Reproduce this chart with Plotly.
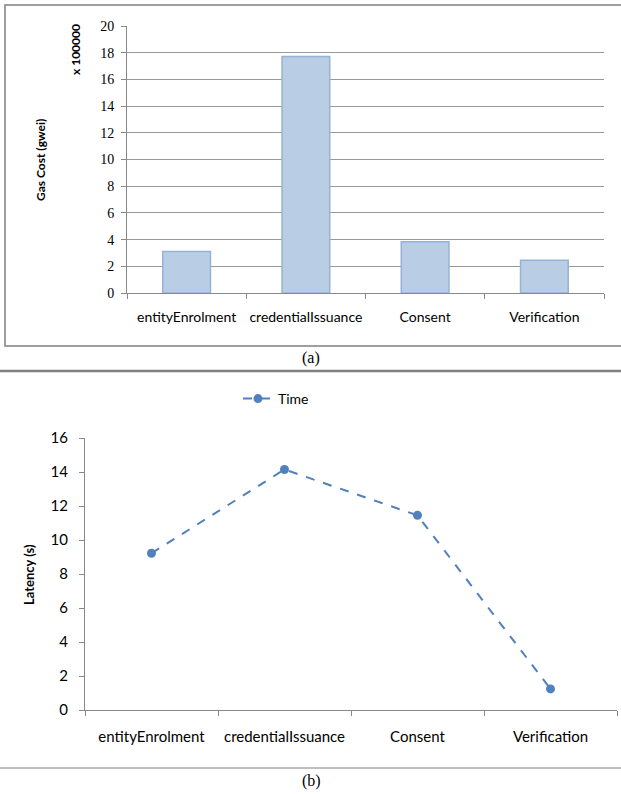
import plotly.graph_objects as go

categories = ["entityEnrolment", "credentialIssuance", "Consent", "Verification"]
gas_cost = [3.1, 17.72, 3.83, 2.45]      # x 100000 gwei
latency = [9.22, 14.15, 11.45, 1.24]     # seconds
gas_ticks = list(range(0, 21, 2))
lat_ticks = list(range(0, 17, 2))

W, H = 621, 794

def px(x):
    return x / W

def py(y):
    return 1 - y / H

sans = "Lato, Carlito, Liberation Sans, Arial, sans-serif"
serif = "Liberation Serif, DejaVu Serif, serif"

fig = go.Figure()

fig.add_trace(go.Bar(
    x=categories, y=gas_cost, xaxis="x", yaxis="y",
    marker=dict(color="#B9CDE5", line=dict(color="#95B3D7", width=1.5)),
    showlegend=False, hoverinfo="skip",
))

fig.add_trace(go.Scatter(
    x=categories, y=latency, xaxis="x2", yaxis="y2",
    mode="lines+markers", name="Time",
    line=dict(color="#4F81BD", width=2, dash="dash"),
    marker=dict(color="#4F81BD", size=9, symbol="circle"),
    showlegend=True, hoverinfo="skip",
))

fig.update_layout(
    width=W, height=H,
    margin=dict(l=0, r=0, t=0, b=0, autoexpand=False),
    paper_bgcolor="white", plot_bgcolor="white",
    bargap=0.6,
    font=dict(family=sans, size=13, color="black"),
    xaxis=dict(
        domain=[px(127), px(604)], anchor="y", automargin=False,
        range=[-0.5, 3.5],
        showline=True, linecolor="#888888", linewidth=1,
        ticks="outside", tickson="boundaries", ticklen=5, tickcolor="#888888",
        showgrid=False, ticklabelstandoff=11, tickangle=0,
        tickfont=dict(family=sans, size=14, color="black"),
    ),
    yaxis=dict(
        domain=[py(293), py(26)], anchor="x", automargin=False,
        range=[0, 20], tickvals=gas_ticks,
        showline=True, linecolor="#888888", linewidth=1,
        ticks="outside", ticklen=5, tickcolor="#888888",
        showgrid=True, gridcolor="#999999", gridwidth=1,
        zeroline=False,
        tickfont=dict(family=serif, size=14, color="black"),
        ticklabelstandoff=4,
    ),
    xaxis2=dict(
        domain=[px(85), px(617)], anchor="y2", automargin=False,
        range=[-0.5, 3.5],
        showline=True, linecolor="#888888", linewidth=1,
        ticks="outside", tickson="boundaries", ticklen=5, tickcolor="#888888",
        showgrid=False, ticklabelstandoff=13, tickangle=0,
        tickfont=dict(family=sans, size=15, color="black"),
    ),
    yaxis2=dict(
        domain=[py(710), py(438)], anchor="x2", automargin=False,
        range=[0, 16], tickvals=lat_ticks,
        showline=True, linecolor="#888888", linewidth=1,
        ticks="outside", ticklen=5, tickcolor="#888888",
        showgrid=False, zeroline=False,
        tickfont=dict(family=sans, size=15, color="black"),
        ticklabelstandoff=8,
    ),
    legend=dict(
        orientation="h", x=px(238), y=py(399), xanchor="left", yanchor="middle",
        font=dict(family=sans, size=14, color="black"),
        bgcolor="rgba(0,0,0,0)",
    ),
)

shapes = [
    dict(type="rect", xref="paper", yref="paper",
         x0=px(5), x1=px(625), y0=py(346), y1=py(5),
         line=dict(color="#808080", width=1.5), fillcolor="rgba(0,0,0,0)", layer="below"),
    dict(type="line", xref="paper", yref="paper",
         x0=0, x1=1, y0=py(371), y1=py(371),
         line=dict(color="#808080", width=2.5)),
    dict(type="line", xref="paper", yref="paper",
         x0=0, x1=1, y0=py(768), y1=py(768),
         line=dict(color="#808080", width=1)),
]
fig.update_layout(shapes=shapes)

def ann(text, x, y, size, angle=0, family=sans):
    return dict(text=text, x=px(x), y=py(y), xref="paper", yref="paper",
                xanchor="center", yanchor="middle", textangle=angle,
                showarrow=False, font=dict(family=family, size=size, color="black"))

annotations = [
    ann("<b>Gas Cost (gwei)</b>", 41, 160, 12, -90),
    ann("<b>x 100000</b>", 76, 50, 12, -90),
    ann("<b>Latency (s)</b>", 29, 575, 13, -90),
    ann("(a)", 311, 358, 16, 0, "Liberation Serif, serif"),
    ann("(b)", 311, 781, 16, 0, "Liberation Serif, serif"),
]
fig.update_layout(annotations=annotations)

fig.write_html(
    "out.html",
    config={"displayModeBar": False, "staticPlot": True},
    post_script="document.body.style.margin='0';document.body.style.overflow='hidden';",
)
